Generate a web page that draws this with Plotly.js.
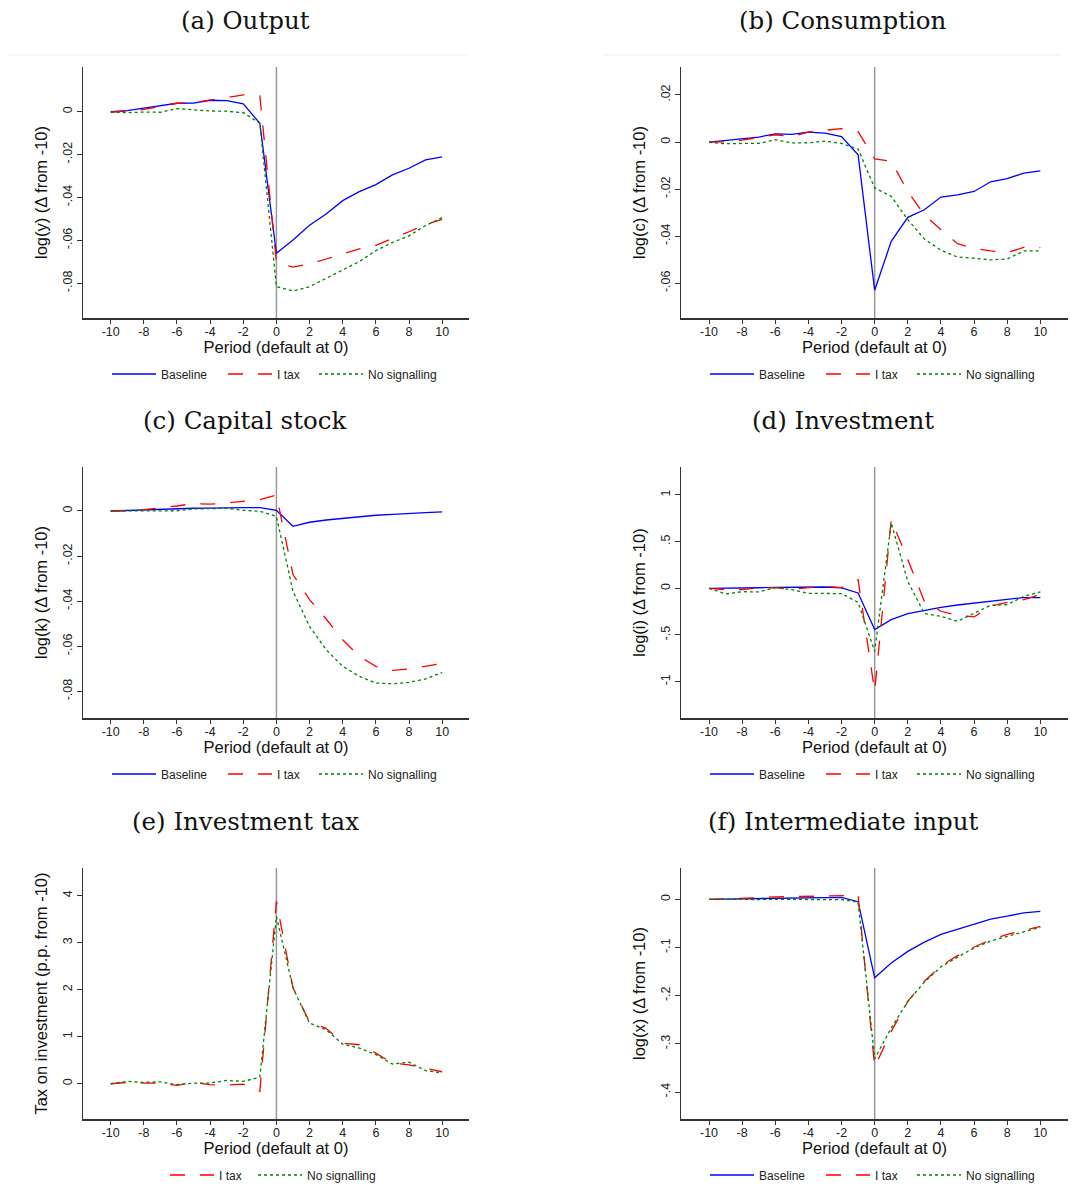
<!DOCTYPE html>
<html>
<head>
<meta charset="utf-8">
<script src="https://cdn.plot.ly/plotly-3.0.1.min.js"></script>
<style>html,body{margin:0;padding:0;background:#fff;}#chart{width:1073px;height:1198px;}</style>
</head>
<body>
<div id="chart"></div>
<script>
// Periods
const periods = [-10,-9,-8,-7,-6,-5,-4,-3,-2,-1,0,1,2,3,4,5,6,7,8,9,10];

// (a) Output
const outBaseline = [0,0.0005,0.0016,0.0026,0.0039,0.004,0.0053,0.0051,0.0036,-0.0054,-0.066,-0.0598,-0.053,-0.0477,-0.0415,-0.0373,-0.034,-0.0295,-0.0264,-0.0225,-0.0211];
const outItax     = [-0.0003,0.0003,0.001,0.0025,0.0039,0.0042,0.0054,0.0067,0.0078,0.0073,-0.0702,-0.0725,-0.071,-0.0687,-0.0662,-0.064,-0.0623,-0.0593,-0.056,-0.0526,-0.0502];
const outNoSig    = [-0.0002,-0.0005,-0.0002,-0.0003,0.0014,0.0008,0.0003,0.0002,-0.0005,-0.0054,-0.0816,-0.0836,-0.0816,-0.0777,-0.0738,-0.0699,-0.0648,-0.061,-0.0579,-0.0531,-0.0494];

// (b) Consumption
const conBaseline = [0,0.0007,0.0013,0.0021,0.0035,0.0033,0.0042,0.0038,0.0023,-0.0054,-0.063,-0.0422,-0.032,-0.0288,-0.0234,-0.0225,-0.021,-0.0169,-0.0156,-0.0132,-0.0123];
const conItax     = [0,0.0001,0.0008,0.0021,0.0031,0.0024,0.0042,0.005,0.0057,0.0044,-0.0072,-0.0082,-0.021,-0.0309,-0.0373,-0.0432,-0.0452,-0.0463,-0.047,-0.0448,-0.0449];
const conNoSig    = [-0.0001,-0.0007,-0.0006,-0.0006,0.001,-0.0004,-0.0003,0.0004,-0.0006,-0.003,-0.0195,-0.0231,-0.033,-0.0412,-0.046,-0.0489,-0.0494,-0.0501,-0.0497,-0.0463,-0.0463];

// (c) Capital stock
const capBaseline = [0,0.0003,0.0004,0.0007,0.0009,0.0012,0.0013,0.0015,0.0015,0.0015,0.0003,-0.0068,-0.005,-0.004,-0.0033,-0.0025,-0.0019,-0.0015,-0.001,-0.0007,-0.0004];
const capItax     = [0,0.0001,0.0006,0.0013,0.0022,0.0033,0.003,0.0035,0.0043,0.005,0.0071,-0.0282,-0.0393,-0.0479,-0.0571,-0.0645,-0.0689,-0.0707,-0.0701,-0.0689,-0.0676];
const capNoSig    = [0,0,-0.0001,0,0.0001,0.0009,0.0009,0.0012,0.0003,-0.0001,-0.0024,-0.0356,-0.0512,-0.0615,-0.0689,-0.0733,-0.0763,-0.0766,-0.076,-0.0745,-0.0716];

// (d) Investment
const invBaseline = [0,0,0.004,0.006,0.01,0.01,0.014,0.014,0.004,-0.05,-0.443,-0.336,-0.271,-0.236,-0.204,-0.179,-0.157,-0.136,-0.118,-0.1,-0.1];
const invItax     = [0,-0.014,-0.014,0.004,0.007,-0.011,0.007,0.021,0.007,0.093,-1.104,0.736,0.307,-0.139,-0.246,-0.289,-0.307,-0.193,-0.15,-0.121,-0.068];
const invNoSig    = [0,-0.061,-0.036,-0.039,0.007,-0.014,-0.054,-0.054,-0.057,-0.15,-0.675,0.7,0.075,-0.271,-0.3,-0.354,-0.264,-0.182,-0.175,-0.086,-0.039];

// (e) Investment tax
const taxItax  = [0,0.03,0.015,0.01,-0.035,0.03,-0.02,-0.03,-0.01,-0.16,3.88,2.04,1.31,1.18,0.865,0.83,0.65,0.44,0.4,0.33,0.255];
const taxNoSig = [0,0.05,0.03,0.04,-0.02,0.015,0.015,0.07,0.05,0.14,3.56,2.04,1.29,1.15,0.84,0.76,0.62,0.42,0.46,0.28,0.23];

// (f) Intermediate input
const intBaseline = [0,0.0007,0.0014,0.0022,0.003,0.0033,0.0035,0.0036,0.004,-0.005,-0.163,-0.132,-0.108,-0.089,-0.073,-0.062,-0.051,-0.041,-0.035,-0.028,-0.025];
const intItax     = [0,0.0007,0.002,0.0035,0.005,0.0055,0.006,0.007,0.008,0.008,-0.348,-0.274,-0.212,-0.17,-0.138,-0.117,-0.099,-0.084,-0.073,-0.064,-0.056];
const intNoSig    = [0,-0.0005,-0.0007,-0.0004,0,0,0,-0.0003,-0.0007,-0.0055,-0.331,-0.267,-0.212,-0.172,-0.14,-0.12,-0.101,-0.0865,-0.077,-0.066,-0.058];

// Tick labels
const xTickVals = [-10,-8,-6,-4,-2,0,2,4,6,8,10];
const yTicksA = {vals:[0,-0.02,-0.04,-0.06,-0.08], text:["0","-.02","-.04","-.06","-.08"]};
const yTicksB = {vals:[0.02,0,-0.02,-0.04,-0.06], text:[".02","0","-.02","-.04","-.06"]};
const yTicksC = {vals:[0,-0.02,-0.04,-0.06,-0.08], text:["0","-.02","-.04","-.06","-.08"]};
const yTicksD = {vals:[1,0.5,0,-0.5,-1], text:["1",".5","0","-.5","-1"]};
const yTicksE = {vals:[4,3,2,1,0], text:["4","3","2","1","0"]};
const yTicksF = {vals:[0,-0.1,-0.2,-0.3,-0.4], text:["0","-.1","-.2","-.3","-.4"]};

const panelTitles = ["(a) Output","(b) Consumption","(c) Capital stock","(d) Investment","(e) Investment tax","(f) Intermediate input"];
const yTitles = ["log(y) (Δ from -10)","log(c) (Δ from -10)","log(k) (Δ from -10)","log(i) (Δ from -10)","Tax on investment (p.p. from -10)","log(x) (Δ from -10)"];
const xTitle = "Period (default at 0)";
const seriesNames = ["Baseline","I tax","No signalling"];

// ---- layout geometry ----
const W = 1073, H = 1198;
const colX = [[83,469],[681,1068]];
const rowY = [[67,318],[467,718],[868,1119]];
const yRanges = [[-0.0962,0.0208],[-0.0748,0.0319],[-0.0918,0.0195],[-1.39,1.3],[-0.75,4.59],[-0.456,0.065]];
const xRanges = [[-11.67,11.62],[-11.69,11.67],[-11.67,11.62],[-11.69,11.67],[-11.67,11.62],[-11.69,11.67]];
// legend key start positions (px) for each series in each panel
const legendKeyX = [
  [112,228,319],[710,826,917],
  [112,228,319],[710,826,917],
  [null,170,258],[710,826,917]
];

const styles = [
  {color:'#0000ff', dash:'solid'},
  {color:'#ff0000', dash:'longdash'},
  {color:'#008000', dash:'dot'}
];

const panelData = [
  [outBaseline,outItax,outNoSig],
  [conBaseline,conItax,conNoSig],
  [capBaseline,capItax,capNoSig],
  [invBaseline,invItax,invNoSig],
  [null,taxItax,taxNoSig],
  [intBaseline,intItax,intNoSig]
];
const yTicks = [yTicksA,yTicksB,yTicksC,yTicksD,yTicksE,yTicksF];

const traces = [];
const layout = {
  width: W, height: H,
  margin:{l:0,r:0,t:0,b:0},
  showlegend:true,
  paper_bgcolor:'#fff', plot_bgcolor:'#fff',
  font:{family:'Liberation Sans, Arial, sans-serif', color:'#000'},
  shapes:[], annotations:[]
};

let legendCount = 0;
for (let p=0;p<6;p++){
  const r = Math.floor(p/2), c = p%2;
  const xa = 'x'+(p===0?'':(p+1)), ya = 'y'+(p===0?'':(p+1));
  const xk = 'xaxis'+(p===0?'':(p+1)), yk = 'yaxis'+(p===0?'':(p+1));
  const dom = [colX[c][0]/W, colX[c][1]/W];
  const ydom = [1-rowY[r][1]/H, 1-rowY[r][0]/H];
  layout[xk] = {
    domain:dom, anchor:ya, range:xRanges[p],
    tickvals:xTickVals, ticktext:xTickVals.map(String),
    showline:true, linecolor:'#333', linewidth:1.5,
    ticks:'outside', ticklen:4, tickcolor:'#333', tickwidth:1,
    ticklabelstandoff:-3,
    showgrid:false, zeroline:false,
    tickfont:{size:12.5, color:'#222'},
    title:{text:xTitle, font:{size:16.5, color:'#111'}, standoff:0}
  };
  layout[yk] = {
    domain:ydom, anchor:xa, range:yRanges[p],
    tickvals:yTicks[p].vals, ticktext:yTicks[p].text, tickangle:-90,
    showline:true, linecolor:'#333', linewidth:1.5,
    ticks:'outside', ticklen:5, tickcolor:'#333', tickwidth:1,
    showgrid:false, zeroline:false,
    tickfont:{size:12.5, color:'#222'},
    title:{text:yTitles[p], font:{size:16.5, color:'#111'}, standoff:8}
  };
  for (let s=0;s<3;s++){
    if (!panelData[p][s]) continue;
    legendCount++;
    const lg = 'legend'+(legendCount===1?'':legendCount);
    layout[lg] = {
      visible:true,
      orientation:'h', x:(legendKeyX[p][s]-5)/W, xanchor:'left',
      y:1-(rowY[r][1]+56)/H, yanchor:'middle',
      font:{size:12, color:'#222'}, bgcolor:'rgba(0,0,0,0)',
      itemwidth:44, itemsizing:'trace'
    };
    traces.push({
      type:'scatter', mode:'lines', x:periods, y:panelData[p][s],
      name:seriesNames[s], xaxis:xa, yaxis:ya, legend:lg, showlegend:true,
      line:{color:styles[s].color, dash:styles[s].dash, width:1.3},
      hoverinfo:'skip'
    });
  }
  // vertical line at default
  layout.shapes.push({type:'line', xref:xa, yref:ya+' domain', x0:0, x1:0, y0:0, y1:1,
    line:{color:'#999', width:1.5}, layer:'below'});
  // panel title
  layout.annotations.push({text:panelTitles[p], xref:'paper', yref:'paper',
    x:(c===0?245:843)/W, y:1-(20+r*400.5)/H, xanchor:'center', yanchor:'middle', showarrow:false,
    font:{family:'DejaVu Serif, serif', size:24.5, color:'#111'}});
}
// faint separators under top-row titles
layout.shapes.push({type:'line', xref:'paper', yref:'paper', x0:8/W, x1:467/W, y0:1-55/H, y1:1-55/H, line:{color:'#eeeeee', width:1}});
layout.shapes.push({type:'line', xref:'paper', yref:'paper', x0:603/W, x1:1060/W, y0:1-55/H, y1:1-55/H, line:{color:'#eeeeee', width:1}});

Plotly.newPlot('chart', traces, layout, {displayModeBar:false, staticPlot:true});
</script>
</body>
</html>
